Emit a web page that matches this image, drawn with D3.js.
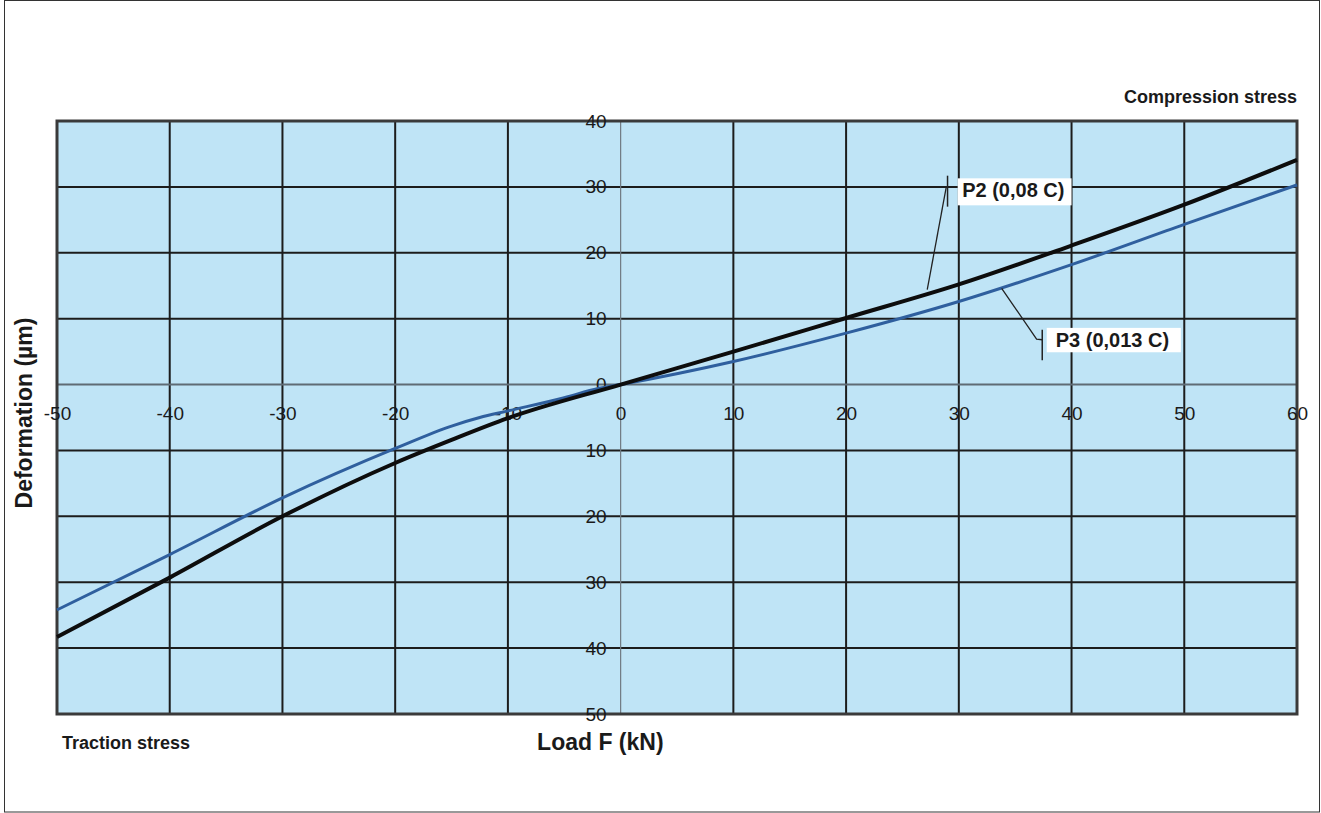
<!DOCTYPE html>
<html>
<head>
<meta charset="utf-8">
<script src="https://cdn.jsdelivr.net/npm/d3@7/dist/d3.min.js"></script>
<style>
  body { margin: 0; background: #fff; }
  svg { display: block; font-family: "Liberation Sans", Arial, sans-serif; }
  .tick text { font-size: 19px; fill: #1a1a1a; }
  .title { font-weight: bold; fill: #1a1a1a; }
</style>
</head>
<body>
<script>
// load (kN) and deformation (µm)
const p2Load = [-50, -40, -30, -20, -15, -10, 0, 10, 20, 30, 40, 50, 60];
const p2Def = [-38.3, -29.3, -20.0, -11.9, -8.4, -5.1, 0, 5.0, 10.1, 15.2, 21.1, 27.3, 34.1];

const p3Load = [-50, -40, -30, -20, -15, -12.5, -10, -5, -2, 0, 10, 20, 30, 40, 50, 60];
const p3Def = [-34.2, -25.8, -17.2, -9.7, -6.3, -5.0, -4.0, -2.0, -0.6, 0, 3.5, 7.8, 12.6, 18.2, 24.3, 30.3];

const xTicks = [-50, -40, -30, -20, -10, 0, 10, 20, 30, 40, 50, 60];
const yTicks = [-50, -40, -30, -20, -10, 0, 10, 20, 30, 40];

const labels = [
  { text: 'P2 (0,08 C)', leader: [[27.2, 14.4], [28.9, 30.1]], bar: [29.0, 31.7, 27.0], box: [29.9, 40.0, 31.3, 27.2], at: [30.3, 28.5] },
  { text: 'P3 (0,013 C)', leader: [[33.8, 14.6], [36.9, 6.9], [37.4, 6.8]], bar: [37.4, 8.3, 3.7], box: [37.8, 49.7, 8.6, 4.9], at: [38.6, 5.7] }
];

const W = 1321, H = 813;
const margin = { top: 121, right: 24, bottom: 99, left: 57 };

const svg = d3.select('body').append('svg')
  .attr('width', W)
  .attr('height', H);

// outer frame
svg.append('rect')
  .attr('x', 4.5).attr('y', 0.5)
  .attr('width', W - 6).attr('height', H - 1.5)
  .attr('fill', 'none').attr('stroke', '#333').attr('stroke-width', 1);

const x = d3.scaleLinear().domain([-50, 60]).range([margin.left, W - margin.right]);
const y = d3.scaleLinear().domain([-50, 40]).range([H - margin.bottom, margin.top]);

// plot background
svg.append('rect')
  .attr('x', x(-50)).attr('y', y(40))
  .attr('width', x(60) - x(-50)).attr('height', y(-50) - y(40))
  .attr('fill', '#bfe4f6');

// grid
const grid = svg.append('g');
grid.selectAll('.vline')
  .data(xTicks.filter(function(d) { return d !== 0; }))
  .enter().append('line')
  .attr('x1', function(d) { return x(d); })
  .attr('x2', function(d) { return x(d); })
  .attr('y1', y(40)).attr('y2', y(-50))
  .attr('stroke', '#1c1c1c').attr('stroke-width', 2);

grid.selectAll('.hline')
  .data(yTicks.filter(function(d) { return d !== 0; }))
  .enter().append('line')
  .attr('y1', function(d) { return y(d); })
  .attr('y2', function(d) { return y(d); })
  .attr('x1', x(-50)).attr('x2', x(60))
  .attr('stroke', '#1c1c1c').attr('stroke-width', 2);

// zero lines are lighter
grid.append('line')
  .attr('x1', x(0)).attr('x2', x(0))
  .attr('y1', y(40)).attr('y2', y(-50))
  .attr('stroke', '#6f7a82').attr('stroke-width', 1.2);
grid.append('line')
  .attr('x1', x(-50)).attr('x2', x(60))
  .attr('y1', y(0)).attr('y2', y(0))
  .attr('stroke', '#5f6b74').attr('stroke-width', 2);

// plot border
svg.append('rect')
  .attr('x', x(-50)).attr('y', y(40))
  .attr('width', x(60) - x(-50)).attr('height', y(-50) - y(40))
  .attr('fill', 'none').attr('stroke', '#3a3a3a').attr('stroke-width', 3);

// axes: labels sit on the zero lines
const xAxis = svg.append('g')
  .attr('transform', 'translate(0,' + y(0) + ')')
  .call(d3.axisBottom(x).tickValues(xTicks).tickSize(0).tickPadding(22)
    .tickFormat(function(d) { return String(d); }));
xAxis.select('.domain').remove();

const yAxis = svg.append('g')
  .attr('transform', 'translate(' + x(0) + ',0)')
  .call(d3.axisLeft(y).tickValues(yTicks).tickSize(0).tickPadding(14)
    .tickFormat(function(d) { return Math.abs(d); }));
yAxis.select('.domain').remove();

// curves
const line = d3.line()
  .x(function(d) { return x(d[0]); })
  .y(function(d) { return y(d[1]); })
  .curve(d3.curveMonotoneX);

svg.append('path')
  .datum(d3.zip(p3Load, p3Def))
  .attr('d', line)
  .attr('fill', 'none').attr('stroke', '#2f5f9e').attr('stroke-width', 3);

svg.append('path')
  .datum(d3.zip(p2Load, p2Def))
  .attr('d', line)
  .attr('fill', 'none').attr('stroke', '#0d0d0d').attr('stroke-width', 4);

// curve labels
labels.forEach(function(l) {
  const g = svg.append('g');
  g.append('path')
    .attr('d', d3.line().x(function(d) { return x(d[0]); }).y(function(d) { return y(d[1]); })(l.leader))
    .attr('fill', 'none').attr('stroke', '#222').attr('stroke-width', 1.3);
  g.append('line')
    .attr('x1', x(l.bar[0])).attr('x2', x(l.bar[0]))
    .attr('y1', y(l.bar[1])).attr('y2', y(l.bar[2]))
    .attr('stroke', '#222').attr('stroke-width', 1.5);
  g.append('rect')
    .attr('x', x(l.box[0])).attr('y', y(l.box[2]))
    .attr('width', x(l.box[1]) - x(l.box[0])).attr('height', y(l.box[3]) - y(l.box[2]))
    .attr('fill', '#fff');
  g.append('text')
    .attr('class', 'title')
    .attr('x', x(l.at[0])).attr('y', y(l.at[1]))
    .style('font-size', '20px')
    .text(l.text);
});

// titles
svg.append('text')
  .attr('class', 'title')
  .attr('transform', 'translate(32,413) rotate(-90)')
  .attr('text-anchor', 'middle')
  .style('font-size', '23px')
  .text('Deformation  (µm)');

svg.append('text')
  .attr('class', 'title')
  .attr('x', x(-1.8)).attr('y', 750)
  .attr('text-anchor', 'middle')
  .style('font-size', '23px')
  .text('Load F (kN)');

svg.append('text')
  .attr('class', 'title')
  .attr('x', 62).attr('y', 749)
  .style('font-size', '18px')
  .text('Traction stress');

svg.append('text')
  .attr('class', 'title')
  .attr('x', x(60)).attr('y', 103)
  .attr('text-anchor', 'end')
  .style('font-size', '18px')
  .text('Compression stress');
</script>
</body>
</html>
